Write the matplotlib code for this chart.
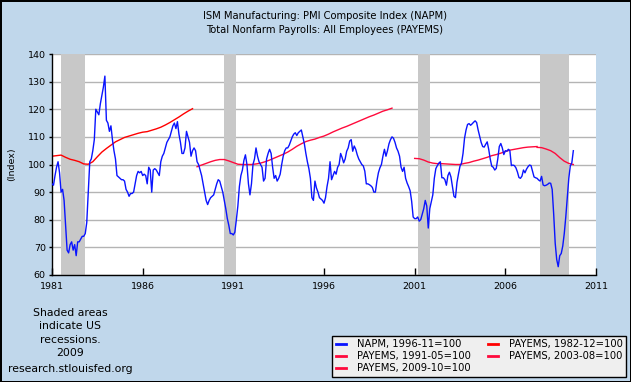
import numpy as np
import matplotlib
matplotlib.use('Agg')
import matplotlib.pyplot as plt

# NAPM, monthly, 1996-11=100, Jan 1981 .. Oct 2009
napm_81_85 = [93, 92.5, 96, 99, 101, 97, 90, 91, 87, 78, 69, 68,
              71, 72, 69, 71, 67, 72, 72, 73, 74, 74, 75, 79,
              90, 101, 102, 105, 109, 120, 119, 118, 122, 125, 128, 132,
              116, 115, 112, 114, 109, 105, 102, 96, 95.5, 95, 94.5, 94.5,
              94, 91, 90, 88.5, 89.5, 89.5, 90, 93, 96, 97.5, 97, 97.5]
napm_86_90 = [96, 96.5, 96, 93, 99, 98, 90, 98, 98.5, 98, 97, 96,
              101, 103, 104, 106, 108, 109, 110, 112, 114, 115, 113, 115.5,
              111, 108, 104, 104, 106, 112, 110, 108, 103, 105, 106, 105,
              101, 100, 98, 96, 93, 90, 87, 85.5, 87, 88, 88.5, 89,
              91, 93, 94.5, 94, 92, 90, 87, 84, 80.5, 78, 75, 75]
napm_91_95 = [74.5, 75.5, 80, 85, 92, 96, 98, 101.5, 103.5, 100, 93, 89,
              93, 100, 102, 106, 103, 101, 100, 99, 94, 95, 102, 104,
              105.5, 104, 99, 95, 96, 94, 95, 96.5, 100, 103, 105, 106,
              106, 107, 108.5, 110, 111, 111.5, 110.5, 111.5, 112, 112.5, 110, 107.5,
              104, 101, 98.5, 95, 88, 87, 94, 91.5, 90, 88, 87.5, 87]
napm_96_00 = [86, 88, 92, 95, 101, 94.5, 96, 97.5, 96.5, 99, 100, 104,
              102.5, 100.6, 102, 104.8, 106, 108.5, 109, 104.8, 106.7, 105.5, 103.5, 102,
              101, 100, 99.5, 97.6, 93, 93, 92.7, 92.3, 91.7, 90, 90, 94,
              97, 98.8, 100, 103, 105.5, 103, 105, 107.5, 109, 110, 109.5, 108,
              106, 104.8, 103, 99, 97.5, 99, 95, 93.3, 92, 90.5, 86.7, 81]
napm_01_05 = [80.4, 80.4, 81, 79.5, 80, 82, 84, 87, 85, 77, 84, 86.5,
              89, 95, 98.5, 99.6, 100.5, 101, 95.2, 95.2, 94.5, 92.5, 96, 97.2,
              95.5, 92, 88.5, 88, 93.5, 96.6, 99.4, 100.5, 104, 109.5, 112.5, 114.5,
              114.8, 114.2, 114.7, 115.3, 115.8, 115.2, 112.5, 110.2, 108, 106.5, 106.3, 107.3,
              108.2, 105.5, 102, 99.4, 99, 98, 98.6, 102, 106.5, 107.6, 106, 103.6]
napm_06_09 = [105, 104.8, 105.5, 105, 99.6, 99.8, 99.6, 98.8, 97.3, 95.3, 95, 95.8,
              98, 97, 98.3, 99.2, 99.8, 99.6, 97.5, 95.5, 95.2, 95, 94.4, 94,
              95.7, 92.6, 92.3, 92.5, 92.8, 93.3, 93.2, 91, 82, 71.5, 65.6, 63,
              67, 67.8, 70.5, 75, 81, 88, 95, 99.5, 100.6, 105]

# PAYEMS, quarterly readings (Jan/Apr/Jul/Oct)
pay_1982 = [103, 103.2, 103.4, 102.6, 101.9, 101.5, 101, 100.2,
            100.1, 101, 102.8, 104.5, 105.8, 107, 108.2, 109,
            109.8, 110.3, 110.8, 111.3, 111.7, 111.9, 112.4, 112.9,
            113.5, 114.3, 115.2, 116.2, 117.2, 118.3, 119.3, 120.2]
pay_1991 = [99.2, 99.8, 100.4, 101, 101.5, 101.8, 101.8, 101.3,
            100.7, 100.1, 100, 100, 100, 100.2, 100.5, 101,
            101.6, 102.3, 103, 103.7, 104.5, 105.5, 106.6, 107.5,
            108.3, 108.8, 109.2, 109.8, 110.3, 111, 111.8, 112.5,
            113.2, 113.8, 114.5, 115.2, 115.9, 116.6, 117.3, 117.9,
            118.6, 119.3, 119.8, 120.4]
pay_2003 = [102.2, 102.1, 101.6, 100.9, 100.5, 100.3, 100.3, 100.2,
            100.1, 100, 100, 100.4, 100.7, 101.2, 101.6, 102.1,
            102.6, 103.2, 103.6, 104.1, 104.7, 105.2, 105.5, 105.8,
            106.1, 106.3, 106.4, 106.5]
pay_2009 = [106.2, 106.1, 105.6, 105, 104, 102.5, 101.2, 100.4, 100]

pay_starts = [1981.0, 1989.0, 2001.0, 2007.75]

recessions = [(1981.5, 1982.83), (1990.5, 1991.17), (2001.17, 2001.83), (2007.92, 2009.5)]

napm = napm_81_85 + napm_86_90 + napm_91_95 + napm_96_00 + napm_01_05 + napm_06_09
x_napm = 1981 + np.arange(len(napm)) / 12.0

plt.rcParams['font.family'] = 'DejaVu Sans'
bg = '#c0d7eb'

fig = plt.figure(figsize=(6.31, 3.82), dpi=100, facecolor=bg)
fig.patch.set_edgecolor('black')
fig.patch.set_linewidth(2)
ax = fig.add_axes([52 / 631, 1 - 275 / 382, 544 / 631, 221 / 382])

for a, b in recessions:
    ax.axvspan(a, b, color='#c8c8c8', lw=0, zorder=1)

ax.plot(x_napm, napm, color='#0a14ff', lw=1, zorder=3, label='NAPM, 1996-11=100')
series = [(pay_1982, '#ff0000', 'PAYEMS, 1982-12=100'),
          (pay_1991, '#ff0a3c', 'PAYEMS, 1991-05=100'),
          (pay_2003, '#ff0a3c', 'PAYEMS, 2003-08=100'),
          (pay_2009, '#ff0a3c', 'PAYEMS, 2009-10=100')]
lines = {}
for (vals, col, lab), st in zip(series, pay_starts):
    xx = st + np.arange(len(vals)) * 0.25
    lines[lab], = ax.plot(xx, vals, color=col, lw=1, zorder=2, label=lab)

ax.set_xlim(1981, 2011)
ax.set_ylim(60, 140)
ax.set_xticks(np.arange(1981, 2012, 5))
ax.set_yticks(np.arange(60, 141, 10))
ax.set_axisbelow(True)
ax.yaxis.grid(True, color='#b4b4b4', lw=1)
for s in ['top', 'right']:
    ax.spines[s].set_visible(False)
for s in ['left', 'bottom']:
    ax.spines[s].set_color('black')
    ax.spines[s].set_linewidth(1)
ax.tick_params(axis='x', direction='in', length=5, labelsize=6.8, pad=5, width=1)
ax.tick_params(axis='y', direction='out', length=2.5, labelsize=6.8, pad=2, width=1)
ax.set_ylabel('(Index)', fontsize=6.8, labelpad=8)

fig.text(325 / 631, 1 - 16 / 382, 'ISM Manufacturing: PMI Composite Index (NAPM)',
         ha='center', va='center', fontsize=7.2)
fig.text(325 / 631, 1 - 30 / 382, 'Total Nonfarm Payrolls: All Employees (PAYEMS)',
         ha='center', va='center', fontsize=7.2)

fig.text(70 / 631, 1 - 333 / 382, 'Shaded areas\nindicate US\nrecessions.\n2009',
         ha='center', va='center', fontsize=7.8, linespacing=1.45)
fig.text(70 / 631, 1 - 369 / 382, 'research.stlouisfed.org',
         ha='center', va='center', fontsize=7.8)

handles = [ax.lines[0], lines['PAYEMS, 1991-05=100'], lines['PAYEMS, 2009-10=100'],
           lines['PAYEMS, 1982-12=100'], lines['PAYEMS, 2003-08=100']]
leg = fig.legend(handles=handles, labels=[h.get_label() for h in handles],
                 loc='lower right', bbox_to_anchor=(626 / 631, 5 / 382), ncol=2,
                 fontsize=7.2, frameon=True, fancybox=False, handlelength=1.0,
                 handletextpad=1.1, columnspacing=1.7, labelspacing=0.2,
                 borderpad=0.35, borderaxespad=0)
leg.get_frame().set_edgecolor('black')
leg.get_frame().set_facecolor('#efefef')
leg.get_frame().set_alpha(1)
leg.get_frame().set_linewidth(1)
for l in leg.get_lines():
    l.set_linewidth(2)

fig.savefig('out.png', dpi=100, facecolor=fig.get_facecolor(), edgecolor='black')
